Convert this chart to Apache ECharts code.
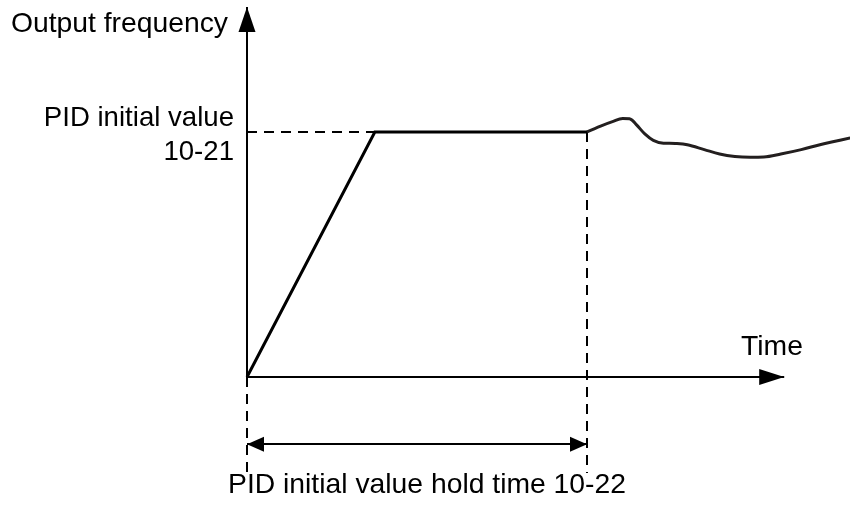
<!DOCTYPE html>
<html>
<head>
<meta charset="utf-8">
<script src="https://cdn.jsdelivr.net/npm/echarts@6/dist/echarts.min.js"></script>
<style>
  html, body { margin: 0; padding: 0; background: #fff; }
  #chart { width: 850px; height: 514px; }
</style>
</head>
<body>
<div id="chart"></div>
<script>
// PID start-up sequence: ramp to the initial value, hold it, then let the PID loop take over
const holdTime = 10;          // 10-22 hold time (end of hold)
const pidInitial = 50;        // 10-21 initial frequency
const rampTime = [0, 3.76, holdTime];
const rampFreq = [0, pidInitial, pidInitial];
const pidTime = [10, 10.4, 10.75, 11.05, 11.25, 11.45, 11.7, 11.95, 12.25, 12.6, 12.95, 13.45, 13.9, 14.35, 14.8, 15.2, 15.7, 16.3, 16.85, 17.3, 17.74];
const pidFreq = [50, 51.2, 52.1, 52.75, 52.7, 51.5, 49.6, 48.3, 47.7, 47.65, 47.4, 46.4, 45.5, 45.0, 44.85, 44.9, 45.5, 46.4, 47.4, 48.1, 48.8];

// axis extents (arrow tips) and lower guide range
const timeAxisEnd = 15.8;
const freqAxisEnd = 75.5;
const guideBottom = -19.6;
const spanLevel = -13.7;

const FONT = '"Liberation Sans", Arial, sans-serif';
const FONT_SIZE = 28.3;
const chart = echarts.init(document.getElementById('chart'), null, { renderer: 'canvas' });

const zip = (a, b) => a.map((v, i) => [v, b[i]]);

// arrow head attached to a markLine end point
const arrowEnd = (coord, w, h) => ({
  coord,
  symbol: 'triangle',
  symbolSize: [w, h],
  symbolOffset: [0, h / 2]
});
const plainEnd = (coord) => ({ coord, symbol: 'none' });

chart.setOption({
  animation: false,
  backgroundColor: '#ffffff',
  grid: { left: 247, right: 0, top: 7, bottom: 39 },
  xAxis: {
    type: 'value', min: 0, max: 17.735,
    axisLine: { show: false }, axisTick: { show: false },
    axisLabel: { show: false }, splitLine: { show: false }
  },
  yAxis: {
    type: 'value', min: -20, max: 75.5,
    axisLine: { show: false }, axisTick: { show: false },
    axisLabel: { show: false }, splitLine: { show: false }
  },
  series: [
    {
      name: 'ramp',
      type: 'line',
      data: zip(rampTime, rampFreq),
      showSymbol: false,
      silent: true,
      z: 5,
      lineStyle: { color: '#000', width: 3, join: 'miter' },
      markLine: {
        silent: true,
        animation: false,
        lineStyle: { color: '#000', width: 2, type: 'solid' },
        itemStyle: { color: '#000' },
        label: { show: false },
        emphasis: { disabled: true },
        data: [
          [plainEnd([0, 0]), arrowEnd([timeAxisEnd, 0], 16, 25)],
          [plainEnd([0, 0]), arrowEnd([0, freqAxisEnd], 17, 25)]
        ]
      }
    },
    {
      name: 'pid',
      type: 'line',
      data: zip(pidTime, pidFreq),
      smooth: 0.35,
      showSymbol: false,
      silent: true,
      z: 5,
      lineStyle: { color: '#231f1f', width: 3 },
      markLine: {
        silent: true,
        animation: false,
        symbol: ['none', 'none'],
        lineStyle: { color: '#000', width: 2, type: [10, 7] },
        label: { show: false },
        emphasis: { disabled: true },
        data: [
          [
            {
              coord: [0, pidInitial],
              label: {
                show: true,
                position: 'start',
                distance: 13,
                offset: [0, 3],
                formatter: 'PID initial value\n10-21',
                fontFamily: FONT, fontSize: 27.6, lineHeight: 34,
                color: '#000', align: 'right'
              }
            },
            { coord: [rampTime[1], pidInitial] }
          ],
          [{ coord: [holdTime, pidInitial] }, { coord: [holdTime, guideBottom] }],
          [{ coord: [0, 0] }, { coord: [0, guideBottom] }]
        ]
      }
    },
    {
      name: 'hold span',
      type: 'line',
      data: [],
      silent: true,
      markLine: {
        silent: true,
        animation: false,
        lineStyle: { color: '#000', width: 2, type: 'solid' },
        itemStyle: { color: '#000' },
        label: { show: false },
        emphasis: { disabled: true },
        data: [
          [arrowEnd([0, spanLevel], 15, 17), arrowEnd([holdTime, spanLevel], 15, 17)]
        ]
      }
    }
  ],
  graphic: [
    {
      type: 'text', x: 228, y: 24,
      style: { text: 'Output frequency', font: FONT_SIZE + 'px ' + FONT, fill: '#000', align: 'right', verticalAlign: 'middle' }
    },
    {
      type: 'text', x: 772, y: 347,
      style: { text: 'Time', font: FONT_SIZE + 'px ' + FONT, fill: '#000', align: 'center', verticalAlign: 'middle' }
    },
    {
      type: 'text', x: 427, y: 485,
      style: { text: 'PID initial value hold time 10-22', font: FONT_SIZE + 'px ' + FONT, fill: '#000', align: 'center', verticalAlign: 'middle' }
    }
  ]
});
</script>
</body>
</html>
